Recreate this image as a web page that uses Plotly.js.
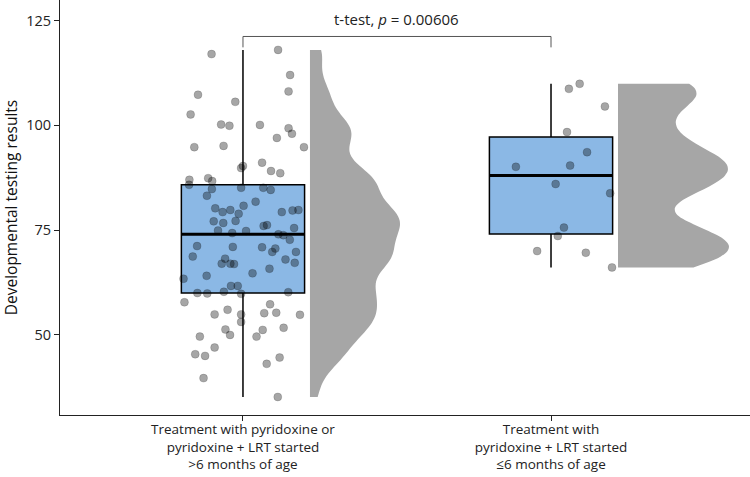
<!DOCTYPE html>
<html><head><meta charset="utf-8">
<script src="https://cdn.plot.ly/plotly-3.0.1.min.js"></script>
<style>html,body{margin:0;padding:0;background:#fff}</style>
</head><body><div id="chart" style="width:750px;height:477px"></div>
<script>
const categories = [
  'Treatment with pyridoxine or<br>pyridoxine + LRT started<br>>6 months of age',
  'Treatment with<br>pyridoxine + LRT started<br>≤6 months of age'
];
const groupPositions = [1, 2];
const group1Values = [117.0,118.0,112.0,107.3,108.1,105.6,102.6,100.2,99.9,100.1,99.3,98.0,97.0,94.8,95.1,94.8,91.1,89.8,90.3,89.1,88.6,87.0,85.8,87.4,86.7,84.8,85.1,85.1,84.6,83.2,81.8,80.8,80.2,79.3,79.8,78.9,79.3,79.7,79.8,77.1,76.7,77.2,76.0,76.2,74.9,74.3,74.8,74.0,73.8,75.5,72.7,71.2,71.0,70.9,70.6,69.8,69.8,68.7,68.2,67.0,67.0,66.9,68.0,67.2,64.7,65.8,64.1,63.4,61.7,61.7,60.0,59.9,60.3,59.8,60.2,57.8,57.3,54.9,56.0,54.9,53.1,55.2,55.3,54.8,51.3,50.0,49.6,51.2,49.6,51.7,47.0,45.4,45.0,44.6,43.1,39.7,35.2];
const group1Jitter = [-0.102,0.114,0.153,-0.146,0.148,-0.025,-0.170,-0.071,-0.044,0.055,0.148,0.159,0.110,-0.158,-0.063,0.198,0.062,-0.006,0.000,0.091,0.121,-0.174,-0.175,-0.113,-0.100,-0.101,-0.006,0.066,0.090,-0.117,0.041,0.002,-0.090,-0.066,-0.041,-0.014,0.126,0.161,0.180,-0.095,-0.064,-0.024,0.067,0.078,-0.081,-0.035,0.010,0.115,0.131,0.166,0.152,-0.149,-0.033,0.062,0.105,0.095,0.172,-0.163,-0.058,-0.069,-0.041,-0.029,0.138,0.168,0.031,0.086,-0.118,-0.193,-0.039,-0.017,-0.148,-0.116,-0.062,-0.006,0.147,-0.190,0.088,-0.092,-0.050,-0.006,-0.006,0.069,0.108,0.185,-0.057,-0.042,-0.140,0.064,0.044,0.132,-0.092,-0.155,-0.123,0.119,0.077,-0.128,0.113];
const group2Values = [108.7,109.9,104.5,98.4,93.6,90.1,90.4,86.0,83.8,75.6,73.6,70.0,69.6,66.1];
const group2Jitter = [0.058,0.093,0.175,0.052,0.117,-0.114,0.062,0.015,0.192,0.042,0.022,-0.045,0.113,0.198];
const testLabel = 't-test, <i>p</i> = 0.00606';
const yTickVals = [50, 75, 100, 125];
const yTitle = 'Developmental testing results';

const FONT = '"Open Sans", "Noto Sans", sans-serif';
const BW_ADJUST = 0.5;
const groups = [
  {pos: groupPositions[0], vals: group1Values, jit: group1Jitter, vwidth: 0.584},
  {pos: groupPositions[1], vals: group2Values, jit: group2Jitter, vwidth: 0.72}
];
function quant(sorted, p) {
  const h = (sorted.length - 1) * p, lo = Math.floor(h);
  const hi = Math.min(lo + 1, sorted.length - 1);
  return sorted[lo] + (h - lo) * (sorted[hi] - sorted[lo]);
}
function sdev(a) {
  const m = a.reduce((s, v) => s + v, 0) / a.length;
  return Math.sqrt(a.reduce((s, v) => s + (v - m) * (v - m), 0) / (a.length - 1));
}
const BOXW = 0.4, VOFF = 0.2175;
const traces = [];
const medTraces = [];
const ptTraces = [];
groups.forEach(g => {
  const s = g.vals.slice().sort((a, b) => a - b);
  const q1 = quant(s, 0.25), med = quant(s, 0.5), q3 = quant(s, 0.75);
  const iqr = q3 - q1;
  const lf = Math.min(...s.filter(v => v >= q1 - 1.5 * iqr));
  const uf = Math.max(...s.filter(v => v <= q3 + 1.5 * iqr));
  const bw = BW_ADJUST * 0.9 * Math.min(sdev(s), iqr / 1.34) * Math.pow(s.length, -0.2);
  traces.push({
    type: 'violin', x0: g.pos + VOFF, y: g.vals, side: 'positive', width: g.vwidth,
    points: false, box: {visible: false}, meanline: {visible: false},
    line: {width: 0, color: 'rgba(0,0,0,0)'}, fillcolor: '#a6a6a6',
    spanmode: 'hard', bandwidth: bw, scalemode: 'width', hoverinfo: 'skip', showlegend: false
  });
  traces.push({
    type: 'box', x: [g.pos], q1: [q1], median: [med], q3: [q3], lowerfence: [lf], upperfence: [uf],
    width: BOXW, whiskerwidth: 0, fillcolor: '#8bb8e5', line: {color: '#000', width: 1.5},
    boxpoints: false, hoverinfo: 'skip', showlegend: false
  });
  medTraces.push({
    type: 'scatter', mode: 'lines', x: [g.pos - BOXW / 2, g.pos + BOXW / 2], y: [med, med],
    line: {color: '#000', width: 3}, hoverinfo: 'skip', showlegend: false
  });
  ptTraces.push({
    type: 'scatter', mode: 'markers', x: g.vals.map((v, i) => g.pos + g.jit[i]), y: g.vals,
    marker: {size: 8, color: 'rgba(0,0,0,0.35)', line: {color: 'rgba(0,0,0,0.25)', width: 0.6}},
    hoverinfo: 'skip', showlegend: false
  });
});
const maxAll = Math.max(...group1Values, ...group2Values);
const bracketTip = maxAll + 0.6, bracketTop = maxAll + 3.2;
const bracket = {
  type: 'scatter', mode: 'lines', x: [groupPositions[0], groupPositions[0], groupPositions[1], groupPositions[1]],
  y: [bracketTip, bracketTop, bracketTop, bracketTip], line: {color: '#555', width: 1}, hoverinfo: 'skip', showlegend: false
};
const data = traces.concat(medTraces, ptTraces, [bracket]);
const layout = {
  width: 750, height: 477,
  margin: {l: 60, r: 0, t: 0, b: 62},
  paper_bgcolor: '#fff', plot_bgcolor: '#fff',
  font: {family: FONT, color: '#222'},
  showlegend: false,
  xaxis: {
    range: [0.406, 2.646], tickvals: groupPositions, ticktext: categories,
    ticks: 'outside', ticklen: 5, tickcolor: '#222', showline: true, linecolor: '#222', linewidth: 1,
    showgrid: false, zeroline: false, tickfont: {size: 13.5, family: FONT, color: '#222'},
    ticklabelstandoff: -3
  },
  yaxis: {
    range: [30.9, 129.9], tickvals: yTickVals, ticks: 'outside', ticklen: 5, tickcolor: '#222',
    showline: true, linecolor: '#222', linewidth: 1, showgrid: false, zeroline: false,
    tickfont: {size: 14.5, family: FONT, color: '#222'},
    title: {text: yTitle, font: {size: 15.5, family: FONT, color: '#111'}, standoff: 11}
  },
  annotations: [{
    x: (groupPositions[0] + groupPositions[1]) / 2, y: bracketTop, xref: 'x', yref: 'y',
    text: testLabel, showarrow: false, yanchor: 'bottom', yshift: 5,
    font: {size: 15, family: FONT, color: '#222'}
  }]
};
Plotly.newPlot('chart', data, layout, {displayModeBar: false, staticPlot: true});
</script></body></html>
